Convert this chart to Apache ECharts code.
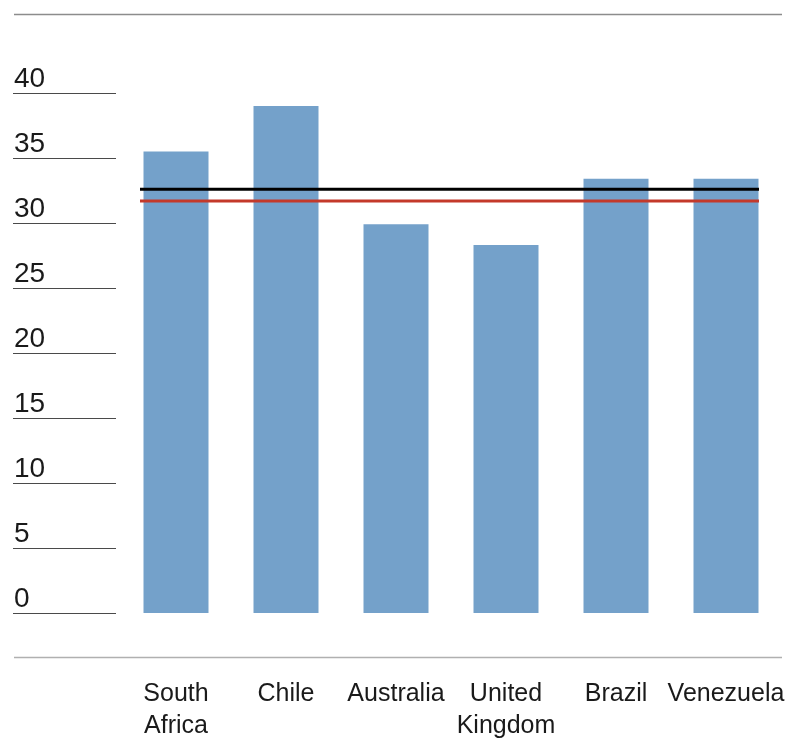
<!DOCTYPE html>
<html>
<head>
<meta charset="utf-8">
<style>
  html, body { margin: 0; padding: 0; background: #ffffff; }
  #chart { width: 785px; height: 739px; }
</style>
<script src="https://cdn.jsdelivr.net/npm/echarts@6/dist/echarts.min.js"></script>
</head>
<body>
<div id="chart"></div>
<script>
// Countries along the category axis
const categories = ['South\nAfrica', 'Chile', 'Australia', 'United\nKingdom', 'Brazil', 'Venezuela'];
// Bar values per country
const values = [35.5, 39.0, 29.9, 28.3, 33.4, 33.4];
// Reference levels drawn across the bars
const blackLevel = 32.6;
const redLevel = 31.7;
// Value axis range and step
const yMin = 0;
const yMax = 40;
const yStep = 5;

const chart = echarts.init(document.getElementById('chart'), null, { renderer: 'canvas' });

const textFont = '"Liberation Sans", "DejaVu Sans", sans-serif';

const option = {
  backgroundColor: '#ffffff',
  animation: false,
  grid: [
    { left: 121, right: 4, top: 93, bottom: 126, outerBoundsMode: 'none', containLabel: false },
    { left: 140, right: 26, top: 93, bottom: 126, outerBoundsMode: 'none', containLabel: false }
  ],
  xAxis: [
    {
      type: 'category',
      gridIndex: 0,
      data: categories,
      axisLine: { show: false },
      axisTick: { show: false },
      axisLabel: {
        interval: 0,
        margin: 65,
        color: '#1a1a1a',
        fontFamily: textFont,
        fontSize: 25,
        lineHeight: 32,
        verticalAlign: 'top',
        hideOverlap: false
      }
    },
    {
      type: 'value',
      gridIndex: 1,
      min: 0,
      max: 1,
      show: false
    }
  ],
  yAxis: [
    {
      type: 'value',
      gridIndex: 0,
      min: yMin,
      max: yMax,
      interval: yStep,
      offset: 5,
      axisLine: { show: false },
      splitLine: { show: false },
      axisTick: {
        show: true,
        length: 103,
        lineStyle: { color: '#4a4a4a', width: 1 }
      },
      axisLabel: {
        margin: 102,
        align: 'left',
        verticalAlign: 'bottom',
        color: '#1a1a1a',
        fontFamily: textFont,
        fontSize: 28
      }
    },
    {
      type: 'value',
      gridIndex: 1,
      min: yMin,
      max: yMax,
      show: false
    }
  ],
  series: [
    {
      type: 'bar',
      xAxisIndex: 0,
      yAxisIndex: 0,
      data: values,
      barWidth: 65,
      itemStyle: { color: '#74a1ca' }
    },
    {
      type: 'line',
      xAxisIndex: 1,
      yAxisIndex: 1,
      data: [[0, blackLevel], [1, blackLevel]],
      symbol: 'none',
      lineStyle: { color: '#000000', width: 3 },
      z: 5
    },
    {
      type: 'line',
      xAxisIndex: 1,
      yAxisIndex: 1,
      data: [[0, redLevel], [1, redLevel]],
      symbol: 'none',
      lineStyle: { color: '#c4392a', width: 3 },
      z: 5
    }
  ],
  graphic: [
    {
      type: 'line',
      shape: { x1: 14, y1: 14.5, x2: 782, y2: 14.5 },
      style: { stroke: '#8c8c8c', lineWidth: 1.5 }
    },
    {
      type: 'line',
      shape: { x1: 14, y1: 657.5, x2: 782, y2: 657.5 },
      style: { stroke: '#b0b0b0', lineWidth: 1.5 }
    }
  ]
};

chart.setOption(option);
</script>
</body>
</html>
